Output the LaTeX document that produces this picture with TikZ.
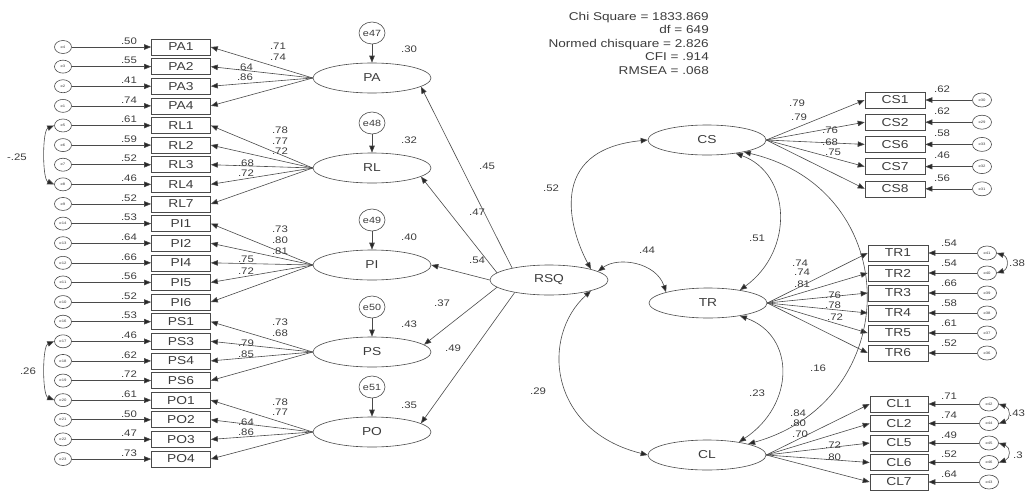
\documentclass[tikz,border=0pt]{standalone}
\usepackage{fontspec}
\setmainfont{Liberation Sans}[FakeStretch=1.2]
\usetikzlibrary{arrows.meta,shapes.geometric,calc}
\definecolor{linec}{HTML}{4A4A4A}
\definecolor{textc}{HTML}{3C3C3C}
\begin{document}
\begin{tikzpicture}[x=1pt, y=-1pt,
  every node/.style={text=textc, inner sep=0pt},
  obs/.style={draw=linec, line width=0.6pt, rectangle, minimum width=59pt, minimum height=16pt, font=\fontsize{11.5}{11.5}\selectfont},
  lat/.style={draw=linec, line width=0.6pt, ellipse, minimum width=118pt, minimum height=30pt, font=\fontsize{11.5}{11.5}\selectfont},
  res/.style={draw=linec, line width=0.6pt, ellipse, minimum width=17pt, minimum height=13pt, font=\fontsize{3.5}{3.5}\selectfont},
  dis/.style={draw=linec, line width=0.6pt, ellipse, minimum width=26pt, minimum height=22pt, font=\fontsize{9}{9}\selectfont},
  est/.style={font=\fontsize{9.5}{9.5}\selectfont},
  reg/.style={draw=linec, line width=0.6pt, -{Triangle[length=7pt,width=5.5pt,fill=black!85]}},
  cov/.style={draw=linec, line width=0.6pt, {Triangle[length=7pt,width=5.5pt,fill=black!85]}-{Triangle[length=7pt,width=5.5pt,fill=black!85]}}]
  \useasboundingbox (0,0) rectangle (1025,490);

  % fit indices
  \node[anchor=north east, align=right, font=\fontsize{11.3}{13.5}\selectfont] (fit) at (709,12)
    {Chi Square = 1833.869\\ df = 649\\ Normed chisquare = 2.826\\ CFI = .914\\ RMSEA = .068};

  % left latent factors with disturbances
  \foreach \lv/\d/\dy/\r/\ry in {PA/e47/78/.30/49, RL/e48/168/.32/140, PI/e49/265/.40/237, PS/e50/352/.43/324, PO/e51/432/.35/405}{
    \node[lat] (\lv) at (372,\dy) {\lv};
    \node[dis] (\d) at (372,{\dy-45}) {\d};
    \draw[reg] (\d) -- (\lv);
    \node[est] at (409,\ry) {\r};
  }

  % left indicators with residuals
  \foreach \ind/\e/\r [count=\i from 0] in {PA1/e4/.50, PA2/e3/.55, PA3/e2/.41, PA4/e1/.74,
      RL1/e5/.61, RL2/e6/.59, RL3/e7/.52, RL4/e8/.46, RL7/e9/.52,
      PI1/e14/.53, PI2/e13/.64, PI4/e12/.66, PI5/e11/.56, PI6/e10/.52,
      PS1/e16/.53, PS3/e17/.46, PS4/e18/.62, PS6/e19/.72,
      PO1/e20/.61, PO2/e21/.50, PO3/e22/.47, PO4/e23/.73}{
    \node[res] (e\ind) at (63,{47+19.62*\i}) {\e};
    \node[obs] (\ind) at (181,{47+19.62*\i}) {\ind};
    \draw[reg] (e\ind) -- (\ind);
    \node[est] at (129,{41+19.62*\i}) {\r};
  }

  % left loadings
  \foreach \lv/\ind/\v/\lx/\ly in {PA/PA1/.71/278/46, PA/PA2/.74/278/57, PA/PA3/.64/245/67, PA/PA4/.86/245/77,
      RL/RL1/.78/280/130, RL/RL2/.77/280/141, RL/RL3/.72/280/151, RL/RL4/.68/246/163, RL/RL7/.72/246/173,
      PI/PI1/.73/280/229, PI/PI2/.80/280/240, PI/PI4/.81/280/251, PI/PI5/.75/246/259, PI/PI6/.72/246/271,
      PS/PS1/.73/280/322, PS/PS3/.68/280/333, PS/PS4/.79/246/343, PS/PS6/.85/246/354,
      PO/PO1/.78/280/402, PO/PO2/.77/280/412, PO/PO3/.64/246/422, PO/PO4/.86/246/432}{
    \draw[reg] (\lv.west) -- (\ind.east);
    \node[est] at (\lx,\ly) {\v};
  }

  % residual covariances, left
  \draw[cov] (eRL1.west) .. controls +(-12,5) and +(-12,-5) .. (eRL4.west);
  \node[est] at (17,157) {-.25};
  \draw[cov] (ePS3.west) .. controls +(-12,5) and +(-12,-5) .. (ePO1.west);
  \node[est] at (28,371) {.26};

  % second order factor
  \node[lat] (RSQ) at (549,280) {RSQ};
  \draw[reg] (RSQ.162) -- (PA.-10);
  \draw[reg] (RSQ.172) -- (RL.-10);
  \draw[reg] (RSQ.west) -- (PI.east);
  \draw[reg] (RSQ.188) -- (PS.8);
  \draw[reg] (RSQ.200) -- (PO.10);
  \node[est] at (487,166) {.45};
  \node[est] at (477,212) {.47};
  \node[est] at (477,260) {.54};
  \node[est] at (442,303) {.37};
  \node[est] at (453,348) {.49};

  % right latent factors
  \node[lat] (CS) at (707,140) {CS};
  \node[lat] (TR) at (708,303) {TR};
  \node[lat] (CL) at (707,455) {CL};

  % right indicators with residuals
  \foreach \ind/\e/\r [count=\i from 0] in {CS1/e30/.62, CS2/e29/.62, CS6/e33/.58, CS7/e32/.46, CS8/e31/.56}{
    \node[obs, minimum width=60pt] (\ind) at (895,{100+22.2*\i}) {\ind};
    \node[res, minimum width=19pt, minimum height=14pt] (e\ind) at (982,{100+22.2*\i}) {\e};
    \draw[reg] (e\ind) -- (\ind);
    \node[est] at (942,{89+22.2*\i}) {\r};
  }
  \foreach \ind/\e/\r [count=\i from 0] in {TR1/e41/.54, TR2/e40/.54, TR3/e39/.66, TR4/e38/.58, TR5/e37/.61, TR6/e36/.52}{
    \node[obs, minimum width=60pt] (\ind) at (898,{253+20*\i}) {\ind};
    \node[res, minimum width=19pt, minimum height=14pt] (e\ind) at (987,{253+20*\i}) {\e};
    \draw[reg] (e\ind) -- (\ind);
    \node[est] at (949,{243+20*\i}) {\r};
  }
  \foreach \ind/\e/\r [count=\i from 0] in {CL1/e42/.71, CL2/e44/.74, CL5/e45/.49, CL6/e46/.52, CL7/e43/.64}{
    \node[obs, minimum width=58pt] (\ind) at (899,{404+19.5*\i}) {\ind};
    \node[res, minimum width=19pt, minimum height=14pt] (e\ind) at (989,{404+19.5*\i}) {\e};
    \draw[reg] (e\ind) -- (\ind);
    \node[est] at (949,{396+19.5*\i}) {\r};
  }

  % right loadings
  \foreach \lv/\ind/\v/\lx/\ly in {CS/CS1/.79/797/103, CS/CS2/.79/799/117, CS/CS6/.76/830/130, CS/CS7/.68/830/142, CS/CS8/.75/833/152,
      TR/TR1/.74/800/263, TR/TR2/.74/802/272, TR/TR3/.81/802/284, TR/TR4/.76/833/295, TR/TR5/.78/833/305, TR/TR6/.72/835/317,
      CL/CL1/.84/798/413, CL/CL2/.80/798/423, CL/CL5/.70/800/434, CL/CL6/.72/833/445, CL/CL7/.80/833/457}{
    \draw[reg] (\lv.east) -- (\ind.west);
    \node[est] at (\lx,\ly) {\v};
  }

  % residual covariances, right
  \draw[cov] (eTR1.east) .. controls +(12,4) and +(12,-4) .. (eTR2.east);
  \node[est, anchor=west] at (1009,263) {.38};
  \draw[cov] (eCL1.east) .. controls +(12,4) and +(12,-4) .. (eCL2.east);
  \node[est, anchor=west] at (1009,413) {.43};
  \draw[cov] (eCL5.east) .. controls +(12,4) and +(12,-4) .. (eCL6.east);
  \node[est, anchor=west] at (1013,455) {.3};

  % factor covariances
  \draw[cov] (RSQ.north east) .. controls +(-21,-39) and +(-102,10) .. (CS.west);
  \draw[cov] (RSQ.10) .. controls +(20,-15) and +(-10,-30) .. (TR.north west);
  \draw[cov] (RSQ.south east) .. controls +(-50,45) and +(-100,-25) .. (CL.west);
  \draw[cov] (CS.-25) .. controls +(55,20) and +(55,-40) .. (TR.22);
  \draw[cov] (CS.-18) .. controls +(162,38) and +(157,-44) .. (CL.15);
  \draw[cov] (TR.-22) .. controls +(56,20) and +(56,-37) .. (CL.22);
  \node[est] at (551,188) {.52};
  \node[est] at (647,250) {.44};
  \node[est] at (538,391) {.29};
  \node[est] at (757,238) {.51};
  \node[est] at (818,368) {.16};
  \node[est] at (757,393) {.23};
\end{tikzpicture}
\end{document}
